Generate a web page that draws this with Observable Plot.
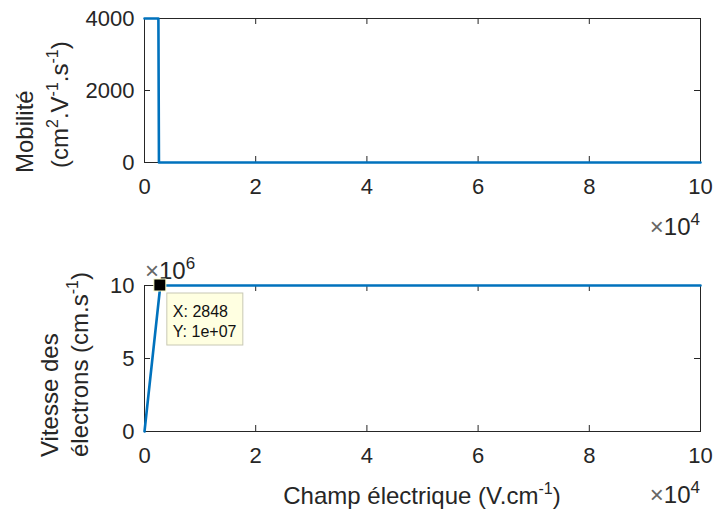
<!DOCTYPE html>
<html><head><meta charset="utf-8">
<script src="https://cdn.jsdelivr.net/npm/d3@7"></script>
<script src="https://cdn.jsdelivr.net/npm/@observablehq/plot@0.6"></script>
<style>
html,body{margin:0;padding:0;background:#fff;}
#wrap{position:relative;width:715px;height:514px;overflow:hidden;}
#wrap svg{position:absolute;left:0;font-family:"Liberation Sans",Arial,sans-serif;}
#wrap g[aria-label="x-axis tick label"], #wrap g[aria-label="y-axis tick label"]{font-size:22px;}
</style></head>
<body><div id="wrap"></div>
<script>
// Data
const fieldMob = [0, 2500, 2600, 100000];
const mobility = [4000, 4000, 0, 0];
const fieldVel = [0, 2848, 100000];
const velocity = [0, 1e7, 1e7];
const xTicks = [0, 20000, 40000, 60000, 80000, 100000];
const yTicksMob = [0, 2000, 4000];
const yTicksVel = [0, 5e6, 1e7];
const tipX = 2848, tipY = 1e7;

const INK = "#262626";
const BLUE = "#0072BD";
const FS = 22, LFS = 24, SUP = 16;
const W = 715, H = 257;
const wrap = document.getElementById("wrap");

function panel({xs, ys, yDomain, yTicks, yFmt, mTop, mBottom, top}) {
  const data = xs.map((x,i)=>({x, y: ys[i]}));
  const ph = H - mTop - mBottom;
  const pw = W - 144 - 15;
  const chart = Plot.plot({
    width: W, height: H,
    marginLeft: 144, marginRight: 15, marginTop: mTop, marginBottom: mBottom,
    style: {fontFamily: "Liberation Sans, Arial, sans-serif", fontSize: FS + "px", color: INK, background: "white", overflow: "visible"},
    x: {domain: [0, 100000]},
    y: {domain: yDomain},
    marks: [
      Plot.frame({stroke: INK, strokeWidth: 1}),
      Plot.tickX(xTicks, {x: d=>d, stroke: INK, insetTop: ph - 6}),
      Plot.tickX(xTicks, {x: d=>d, stroke: INK, insetBottom: ph - 6}),
      Plot.tickY(yTicks, {y: d=>d, stroke: INK, insetRight: pw - 6}),
      Plot.tickY(yTicks, {y: d=>d, stroke: INK, insetLeft: pw - 6}),
      Plot.axisX({ticks: xTicks, tickSize: 0, tickPadding: 16, tickFormat: d=>String(d/1e4), label: null, fill: INK}),
      Plot.axisY({ticks: yTicks, tickSize: 0, tickPadding: 10, tickFormat: yFmt, label: null, fill: INK}),
      Plot.line(data, {x: "x", y: "y", stroke: BLUE, strokeWidth: 2.6})
    ]
  });
  chart.style.top = top + "px";
  wrap.appendChild(chart);
  return chart;
}

function expLabel(svg, x, y, base, exp, anchor) {
  const t = d3.select(svg).append("text").attr("x", x).attr("y", y)
    .attr("text-anchor", anchor).attr("fill", INK).attr("font-size", LFS);
  t.append("tspan").attr("fill", "#666").text("×");
  t.append("tspan").text(base);
  t.append("tspan").attr("dy", -10).attr("font-size", SUP + 1).text(exp);
}

function superText(sel, parts) {
  let up = false;
  parts.forEach(([s, sup]) => {
    const ts = sel.append("tspan").text(s);
    if (sup) { ts.attr("font-size", SUP); if (!up) { ts.attr("dy", -10); up = true; } }
    else if (up) { ts.attr("dy", 10); up = false; }
  });
}

function yLabel(svg, lines) {
  const g = d3.select(svg).append("g").attr("transform", "rotate(-90)")
    .attr("fill", INK).attr("font-size", LFS).attr("text-anchor", "start");
  lines.forEach(({start, base, parts}) => {
    superText(g.append("text").attr("x", -start).attr("y", base), parts);
  });
}

// Top panel
const c1 = panel({xs: fieldMob, ys: mobility, yDomain: [0, 4000], yTicks: yTicksMob, yFmt: d=>String(d), mTop: 18, mBottom: 95, top: 0});
yLabel(c1, [
  {start: 173, base: 33, parts: [["Mobilité", false]]},
  {start: 168, base: 68, parts: [["(cm", false], ["2", true], [".V", false], ["-1", true], [".s", false], ["-1", true], [")", false]]}
]);
expLabel(c1, 700, 235, "10", "4", "end");

// Bottom panel
const c2 = panel({xs: fieldVel, ys: velocity, yDomain: [0, 1e7], yTicks: yTicksVel, yFmt: d=>String(d/1e6), mTop: 28, mBottom: 83, top: 257});
{
  const s = d3.select(c2);
  yLabel(c2, [
    {start: 200, base: 58, parts: [["Vitesse des", false]]},
    {start: 200, base: 88, parts: [["électrons (cm.s", false], ["-1", true], [")", false]]}
  ]);
  expLabel(c2, 145, 22, "10", "6", "start");
  expLabel(c2, 700, 246, "10", "4", "end");
  const xl = s.append("text").attr("x", 422).attr("y", 247).attr("text-anchor", "middle").attr("fill", INK).attr("font-size", LFS);
  superText(xl, [["Champ électrique (V.cm", false], ["-1", true], [")", false]]);
  // data tip
  const px = c2.scale("x").apply(tipX), py = c2.scale("y").apply(tipY);
  const tip = s.append("g").attr("text-anchor", "start");
  tip.append("rect").attr("x", px + 7).attr("y", py + 8).attr("width", 76).attr("height", 52)
    .attr("fill", "#ffffe1").attr("stroke", "#c8c8b4").attr("stroke-width", 1);
  tip.append("text").attr("x", px + 13).attr("y", py + 32).attr("font-size", 16).attr("fill", "#111").text("X: " + tipX);
  tip.append("text").attr("x", px + 13).attr("y", py + 52).attr("font-size", 16).attr("fill", "#111").text("Y: 1e+07");
  tip.append("rect").attr("x", px - 6).attr("y", py - 6).attr("width", 12).attr("height", 12)
    .attr("fill", "#000").attr("stroke", "#ffffcc").attr("stroke-width", 1);
}
</script></body></html>
